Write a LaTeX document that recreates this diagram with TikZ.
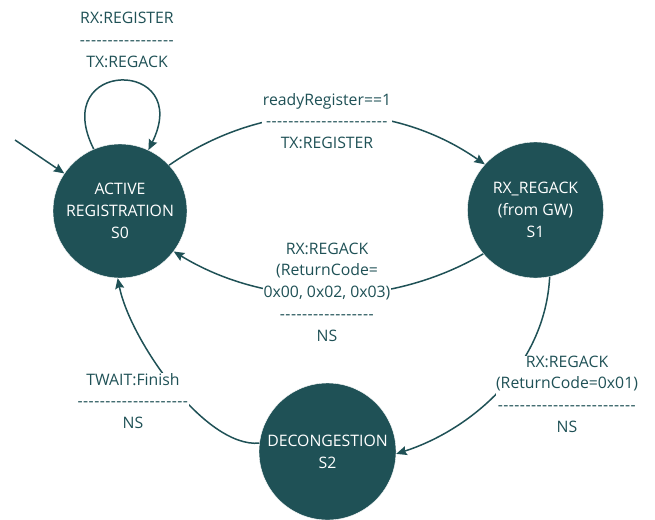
\documentclass[tikz,border=0pt]{standalone}
\usepackage{fontspec}
\setmainfont{Open Sans}
\usetikzlibrary{arrows.meta}

\definecolor{stfill}{RGB}{31,81,86}

% a row of separate hyphens (no dash ligatures)
\newcommand\dashrow[1]{\foreach\k in {1,...,#1}{-\kern0.45pt}}
\newcommand\diagfont{\fontsize{15.8}{21.7}\selectfont}

\tikzset{
  state/.style={circle, fill=stfill, draw=white, line width=0.4pt, text=white,
    inner sep=0pt, align=center, font=\diagfont},
  lbl/.style={fill=white, inner xsep=0.5pt, inner ysep=0pt, align=center,
    text=stfill, font=\diagfont},
  edge/.style={draw=stfill, line width=1.5pt,
    -{Stealth[length=10.5pt,width=9pt,inset=1.5pt]}}
}

\begin{document}
\begin{tikzpicture}[x=1pt,y=-1pt]
\useasboundingbox (0,0) rectangle (655,519);

% states
\node[state, minimum size=134pt] (s0) at (120,211) {ACTIVE\\REGISTRATION\\S0};
\node[state, minimum size=136pt] (s1) at (535.5,210) {RX\_REGACK\\(from GW)\\S1};
\node[state, minimum size=137pt] (s2) at (327.5,451.5) {DECONGESTION\\S2};

% initial transition
\coordinate (init) at (15,140);
\draw[edge] (init) -- (s0.146);

% self loop on S0
\draw[edge] (s0.113) .. controls (48,58) and (194,58) .. (s0.65);

% transitions between states
\draw[edge] (s0.43) .. controls (265,98) and (390,98) .. (s1.138);
\draw[edge] (s1.220) .. controls (389,309) and (268,309) .. (s0.323);
\draw[edge] (s1.-78) .. controls (545,368) and (470,430) .. (s2.-2);
\draw[edge] (s2.173) .. controls (205,448) and (130,340) .. (s0.268);

% transition labels
\node[lbl] (l0) at (127,40) {RX:REGISTER\\\dashrow{17}\\TX:REGACK};
\node[lbl] (l1) at (327,121) {readyRegister==1\\\dashrow{22}\\TX:REGISTER};
\node[lbl] (l2) at (327,292) {RX:REGACK\\(ReturnCode=\\0x00, 0x02, 0x03)\\\dashrow{17}\\NS};
\node[lbl] (l3) at (567,394) {RX:REGACK\\(ReturnCode=0x01)\\\dashrow{25}\\NS};
\node[lbl] (l4) at (133,401) {TWAIT:Finish\\\dashrow{20}\\NS};
\end{tikzpicture}
\end{document}
